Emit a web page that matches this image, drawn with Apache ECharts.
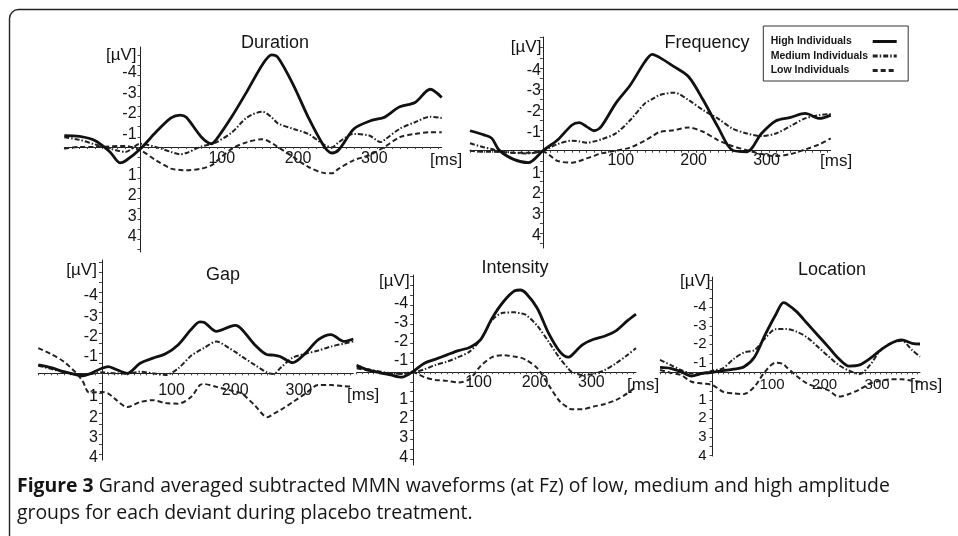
<!DOCTYPE html>
<html><head><meta charset="utf-8">
<script src="https://cdn.jsdelivr.net/npm/echarts@6/dist/echarts.min.js"></script>
<style>html,body{margin:0;padding:0;background:#fff}#c{width:958px;height:536px}</style>
</head><body><div id="c"></div>
<script>
// ---------------- data ----------------
const seriesNames = ['High Individuals', 'Medium Individuals', 'Low Individuals'];
const panelTitles = ['Duration', 'Frequency', 'Gap', 'Intensity', 'Location'];
const yTickLabels = [-4, -3, -2, -1, 1, 2, 3, 4];
const xTickLabels = [100, 200, 300];
const captionBold = 'Figure 3';
const captionLine1 = ' Grand averaged subtracted MMN waveforms (at Fz) of low, medium and high amplitude';
const captionLine2 = 'groups for each deviant during placebo treatment.';

const durationTime   = [-100,-80,-60,-40,-27,-20,0,20,40,52,60,80,93,100,120,140,160,172,180,200,220,240,251,260,280,300,315,320,340,360,380,395];
const durationHigh   = [-0.56,-0.52,-0.32,0.24,0.77,0.68,0.08,-0.72,-1.42,-1.56,-1.45,-0.48,-0.16,-0.4,-1.5,-2.74,-4.03,-4.5,-4.38,-3.06,-1.45,-0.08,0.29,0.13,-0.89,-1.26,-1.4,-1.45,-1.96,-2.17,-2.82,-2.42];
const durationMedium = [-0.48,-0.35,-0.13,0.08,0.2,0.24,-0.16,0,0.24,0.35,0.29,-0.03,-0.15,-0.24,-0.72,-1.45,-1.72,-1.45,-1.16,-0.89,-0.64,-0.13,0.02,-0.24,-0.64,-0.56,-0.24,-0.35,-0.89,-1.21,-1.48,-1.42];
const durationLow    = [0.08,0,0,-0.03,-0.05,-0.05,0.16,0.64,1.05,1.12,1.13,1.05,0.89,0.68,0.08,-0.24,-0.38,-0.2,0,0.48,0.97,1.26,1.28,1.05,0.64,0.4,0.1,0,-0.48,-0.64,-0.72,-0.72];

const frequencyTime   = [-100,-80,-70,-60,-40,-20,0,20,40,50,60,70,80,100,120,140,150,160,180,200,220,240,260,280,300,320,340,360,380,395];
const frequencyHigh   = [-0.97,-0.76,-0.6,-0.03,0.42,0.58,0,-0.52,-1.25,-1.36,-1.17,-0.97,-1.17,-2.3,-3.19,-4.32,-4.68,-4.53,-4.08,-3.59,-2.46,-1.17,-0.03,0.05,-0.84,-1.46,-1.62,-1.81,-1.57,-1.73];
const frequencyMedium = [-0.36,-0.16,-0.08,0,0.1,0.13,0,-0.32,-0.49,-0.45,-0.39,-0.45,-0.55,-0.84,-1.49,-2.3,-2.5,-2.7,-2.82,-2.46,-1.97,-1.57,-1.08,-0.84,-0.71,-0.84,-1.2,-1.57,-1.73,-1.78];
const frequencyLow    = [0,0.05,0.05,0.06,0.1,0.1,0.05,0.49,0.58,0.5,0.37,0.25,0.13,0,-0.16,-0.49,-0.7,-0.91,-1.0,-1.13,-0.92,-0.52,-0.23,-0.03,0.16,0.26,0.16,-0.06,-0.32,-0.6];

const gapTime   = [-100,-80,-60,-40,-30,-20,0,10,20,40,60,80,100,120,140,154,160,180,200,210,220,240,260,270,280,300,320,340,360,380,395];
const gapHigh   = [-0.42,-0.28,-0.08,0.08,0.12,0.03,-0.25,-0.33,-0.22,0,-0.5,-0.75,-0.97,-1.42,-2.17,-2.55,-2.53,-2.08,-2.3,-2.37,-2.17,-1.42,-0.92,-0.9,-0.83,-0.53,-1.0,-1.67,-1.92,-1.58,-1.7];
const gapMedium = [-0.38,-0.22,-0.06,0.05,0.08,0.05,-0.05,-0.02,0,0.02,-0.08,0,0.08,-0.25,-0.87,-1.15,-1.25,-1.57,-1.25,-1.05,-0.83,-0.42,-0.03,0.03,-0.25,-0.78,-0.97,-1.13,-1.33,-1.47,-1.58];
const gapLow    = [-1.25,-0.95,-0.58,0.0,0.4,0.95,0.92,1.0,1.25,1.67,1.42,1.33,1.47,1.5,1.17,0.58,0.53,0.67,0.83,0.9,1.0,1.58,2.17,2.0,1.83,1.42,1.0,0.58,0.58,0.63,0.67];

const intensityTime   = [-100,-80,-60,-40,-20,0,20,40,60,80,100,120,140,160,180,190,200,220,240,260,275,280,300,320,340,360,380,395];
const intensityHigh   = [-0.33,-0.12,0.02,0.14,0.26,-0.04,-0.47,-0.68,-0.9,-1.12,-1.29,-1.71,-2.81,-3.66,-4.23,-4.27,-4.1,-3.32,-2.03,-1.07,-0.78,-0.85,-1.42,-1.71,-1.88,-2.16,-2.68,-3.02];
const intensityMedium = [-0.38,-0.15,-0.04,0.05,0.09,0.02,-0.15,-0.38,-0.55,-0.78,-1.07,-1.71,-2.71,-3.09,-3.11,-3.06,-2.98,-2.41,-1.59,-0.72,-0.19,-0.04,0.14,0.09,-0.12,-0.47,-0.9,-1.25];
const intensityLow    = [-0.21,-0.09,0.02,0.09,0.05,0.02,0.26,0.4,0.45,0.53,0.36,-0.33,-0.78,-0.88,-0.81,-0.76,-0.64,-0.21,0.66,1.52,1.85,1.92,1.92,1.78,1.65,1.44,1.09,0.74];

const locationTime   = [-100,-80,-60,-40,-20,0,20,40,60,80,100,120,135,140,160,180,200,220,240,260,280,300,320,340,360,380,395];
const locationHigh   = [-0.27,-0.22,-0.04,0.2,0.06,0,-0.09,-0.17,-0.3,-0.83,-2.02,-3.1,-3.77,-3.73,-3.28,-2.65,-2.02,-1.39,-0.75,-0.34,-0.4,-0.75,-1.2,-1.57,-1.75,-1.57,-1.53];
const locationMedium = [-0.67,-0.4,-0.13,0.06,0.06,-0.09,-0.22,-0.72,-1.07,-1.2,-1.84,-2.33,-2.34,-2.34,-2.2,-1.89,-1.39,-0.88,-0.4,-0.09,0.09,-0.4,-1.2,-1.57,-1.71,-1.2,-0.85];
const locationLow    = [-0.13,0.02,0.15,0.51,0.6,0.69,1.05,1.14,1.17,0.77,-0.04,-0.52,-0.45,-0.3,0.2,0.6,0.81,0.96,1.31,1.17,0.92,0.6,0.45,0.38,0.38,0.45,0.51];

// ---------------- layout / style ----------------
const panelData = [
  {t: durationTime,  s: [durationHigh, durationMedium, durationLow]},
  {t: frequencyTime, s: [frequencyHigh, frequencyMedium, frequencyLow]},
  {t: gapTime,       s: [gapHigh, gapMedium, gapLow]},
  {t: intensityTime, s: [intensityHigh, intensityMedium, intensityLow]},
  {t: locationTime,  s: [locationHigh, locationMedium, locationLow]}
];
const X_MIN = -100, X_MAX = 395;
const layout = [
  {left:64.3, top:47, width:377.4, height:205, yMin:-4.88, yMax:5.12, yOff:8, yMargin:4, xOff:5, xMargin:4, tx:275, ty:43, uvPad:4, uvGap:-8, msGap:-11.7, msDy:13, fs:16},
  {left:470, top:37, width:360.7, height:211, yMin:-5.52, yMax:4.72, yOff:2, yMargin:2, xOff:5, xMargin:2, tx:707, ty:43, uvPad:1.5, uvGap:-10, msGap:-10.7, msDy:11, fs:16},
  {left:38.3, top:260, width:315, height:200, yMin:-5.61, yMax:4.29, yOff:3.5, yMargin:4, xOff:6, xMargin:9, tx:223, ty:275, uvPad:5, uvGap:-10.7, msGap:-6.3, msDy:21.7, fs:16},
  {left:356.7, top:275, width:279.3, height:190, yMin:-5.05, yMax:4.82, yOff:8, yMargin:5, xOff:9, xMargin:2, tx:515, ty:268, uvPad:3.5, uvGap:-6.7, msGap:-9, msDy:12.7, fs:16},
  {left:660, top:277, width:260, height:179, yMin:-5.15, yMax:4.52, yOff:9, yMargin:6, xOff:7, xMargin:5, tx:832, ty:270, uvPad:2, uvGap:-4.7, msGap:-10, msDy:12.7, fs:15}
];
const FONT = '"Liberation Sans", Arial, sans-serif';
const CAP_FONT = '"Open Sans", "Liberation Sans", sans-serif';
const INK = '#151515';
const lineStyles = [
  {color: '#111', width: 2.8, type: 'solid'},
  {color: '#222', width: 2, type: [5, 2, 1.5, 2]},
  {color: '#222', width: 2, type: [5, 3]}
];

function steps(a, b, step) {
  const out = [];
  for (let v = Math.ceil(a / step) * step; v <= b + 1e-9; v += step) out.push(+v.toFixed(2));
  return out;
}

const grids = [], xAxes = [], yAxes = [], titles = [], series = [];
layout.forEach((L, p) => {
  grids.push({left: L.left, top: L.top, width: L.width, height: L.height, containLabel: false});
  // pixel distance from grid left edge to t=0 and from grid bottom to v=0
  const yAxisShift = (0 - X_MIN) / (X_MAX - X_MIN) * L.width;
  const xAxisShift = (L.yMax - 0) / (L.yMax - L.yMin) * L.height;
  titles.push({text: panelTitles[p], left: L.tx, top: L.ty, textAlign: 'center', textVerticalAlign: 'middle', padding: 0,
    textStyle: {fontSize: 18, fontWeight: 'normal', color: INK, fontFamily: FONT}});
  xAxes.push({
    type: 'value', gridIndex: p, min: X_MIN, max: X_MAX, position: 'bottom', offset: -xAxisShift,
    axisLine: {onZero: false, lineStyle: {color: '#222', width: 1}},
    axisTick: {show: true, customValues: steps(X_MIN, X_MAX, 10), length: 2, lineStyle: {color: '#444'}},
    axisLabel: {customValues: xTickLabels, hideOverlap: false, margin: L.xMargin, padding: [0, 0, 0, 2 * L.xOff], fontSize: L.fs, color: INK, fontFamily: FONT},
    splitLine: {show: false},
    name: '[ms]', nameLocation: 'end', nameGap: L.msGap, nameMoveOverlap: false,
    nameTextStyle: {align: 'left', verticalAlign: 'top', lineHeight: 2 * L.msDy, fontSize: 17, color: INK, fontFamily: FONT}
  });
  yAxes.push({
    type: 'value', gridIndex: p, inverse: true, min: L.yMin, max: L.yMax, position: 'left', offset: -yAxisShift,
    axisLine: {onZero: false, lineStyle: {color: '#222', width: 1}},
    axisTick: {show: true, customValues: steps(L.yMin, L.yMax, 0.5), length: 3, lineStyle: {color: '#444'}},
    axisLabel: {customValues: yTickLabels, hideOverlap: false, showMinLabel: true, showMaxLabel: true,
      margin: L.yMargin, verticalAlign: 'top', lineHeight: 2 * L.yOff, fontSize: L.fs, color: INK, fontFamily: FONT},
    splitLine: {show: false},
    name: '[µV]', nameLocation: 'start', nameGap: L.uvGap, nameMoveOverlap: false,
    nameTextStyle: {align: 'right', verticalAlign: 'middle', padding: [0, L.uvPad, 0, 0], fontSize: 17, color: INK, fontFamily: FONT}
  });
  const D = panelData[p];
  D.s.forEach((vals, k) => {
    series.push({
      type: 'line', name: seriesNames[k], xAxisIndex: p, yAxisIndex: p,
      data: D.t.map((t, i) => [t, vals[i]]),
      symbol: 'none', smooth: 0.3, silent: true, z: 5 - k,
      itemStyle: {color: lineStyles[k].color},
      lineStyle: lineStyles[k]
    });
  });
});

const chart = echarts.init(document.getElementById('c'));
chart.setOption({
  backgroundColor: '#fff',
  animation: false,
  title: titles,
  grid: grids,
  xAxis: xAxes,
  yAxis: yAxes,
  legend: {
    data: seriesNames, orient: 'vertical', left: 763.3, top: 26,
    padding: [10, 10, 5, 7.4], itemGap: 3.5, itemWidth: 24, itemHeight: 10, align: 'right',
    borderColor: '#333', borderWidth: 1, selectedMode: false,
    lineStyle: {width: 3},
    itemStyle: {color: 'rgba(0,0,0,0)', borderWidth: 0, opacity: 0},
    formatter: name => '{a|' + name + '}',
    textStyle: {fontSize: 10.5, fontWeight: 'bold', color: INK, fontFamily: FONT,
      rich: {a: {width: 97, align: 'left', fontSize: 10.5, fontWeight: 'bold', color: INK, fontFamily: FONT}}}
  },
  graphic: [
    {type: 'rect', shape: {x: 9.5, y: 9.5, width: 1200, height: 800, r: 9}, style: {fill: 'none', stroke: '#222', lineWidth: 1.4}, silent: true},
    {type: 'text', left: 17, top: 477, style: {text: '{b|' + captionBold + '}' + captionLine1, fill: INK, font: '19.4px ' + CAP_FONT,
      rich: {b: {fontWeight: 'bold', fontSize: 19.4, fontFamily: CAP_FONT, fill: INK}}}},
    {type: 'text', left: 17, top: 504, style: {text: captionLine2, fill: INK, font: '19.4px ' + CAP_FONT}}
  ],
  series: series
});
</script></body></html>
